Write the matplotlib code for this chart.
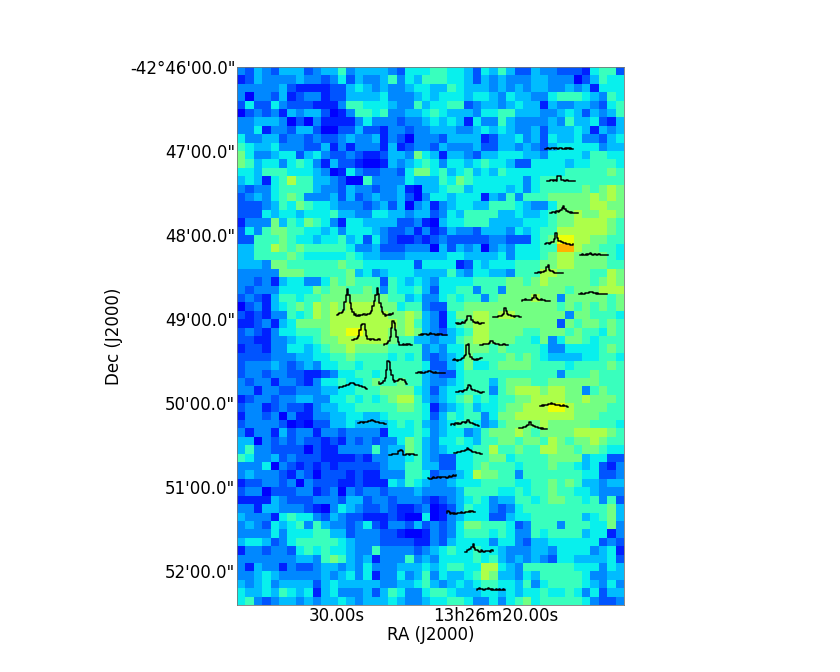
# Map of the field with small spectra drawn on top
import numpy as np
import matplotlib
matplotlib.use('Agg')
import matplotlib.pyplot as plt

# map cells, west half and east half, one digit/letter per cell (level code)
map_left = [
"32432444234463444432555","12433334332352433463546","33333421111224543433455","30332412331224444533345",
"25225322211136655543364","02323143442013665633445","33444302031111353332334","33513324420022422133233",
"53344233232234334132033","65445333224131333141233","75334552453223211244375","76455356531422100143456",
"55466655543015322332577","45415686644320063333544","32335666643324332334104","23435676333424234334203",
"22234657655433323424034","22254554555644335544344","13337465765315544442231","25367766554535554322313",
"22666765545564525321121","44668767666665334222333","44666676555556544333444","44437766666676655555525",
"33333777666667453455544","33231455335767666265454","32333555576776676365564","23214665667777777766453",
"02314567687878888775663","21213365687888888877874","11231457777888888887864","23213556667889988877874",
"22113345567788888876644","12213355456778777766663","22223334455667666656563","23334323435566566666665",
"23323322112355665666664","32331332135565567667664","33133223334455666777754","12332334433556565678864",
"23312322134455666667765","13323031133445544566665","23333201022445444456564","31331423313323333155565",
"44032323221213232335764","46332222021133336344764","65334232221111213344564","33350321212122222344664",
"34333213202221211333665","12233230322211211154654","23302223312303233233343","11114322233324423323332",
"33144333210354322321123","43331565532432211121005","34325456364332352133242","33335355566442333221001",
"45542356666654333222211","13323325656554336333323","33333334436764341333634","31433132234434353334445",
"33454333334345351335346","43453444424544444334456","54454654514533342465335","56323443434454344454334",
]
map_right = [
"66554254642243322215662","66554243433344333024655","44654443434344334341555","45554554354433566654365",
"55662344345441433443256","65444355664443345424346","54541533643333436445214","44433454543342444541434",
"32444412445342544533245","24333422443432455555344","41443244555443555546655","53554565542255554556665",
"56456454655555556666676","46576555555356666666666","45664555545356666676787","55455514363666777778787",
"13455446665433577778877","23546666445445677877887","04556664444555677888876","12433244435456688888876",
"23222223322256799887766","042434034355566aa877665","44554444535556788777765","55512545556667788777766",
"44643554436668877776687","35555666677678777776787","25566366377777776777888","35656636777787737777767",
"22667777777777767676767","31577887887777773776665","31567887777777727677676","32456887777667776766576",
"34467887776657357765666","43557776766665335555676","23457666676765444455665","22457556777766665666676",
"32256666666666636667666","33456664677766777777666","24556663678887887736766","34567565667788887787776",
"13456455677888998777766","24656635778888888777666","34566534677778777776665","34553467778767777888876",
"35565466776776876778766","34555668667668877677655","32255667756666777745522","42255676665666766545213",
"23345877663666666655223","33455566665566767644344","33346666556566766554333","12345653446656776656362",
"01246553235666666666674","01345552245566666645674","32357766652366636665573","32356665653365666645513",
"32455553553244555555232","45655655433344355553451","35555656434343255444452","45665588543666666555354",
"35445687443546666653344","43454566554635666654353","66544455454556556535244","55665335356756666653223",
]
# value of each level code on the colour scale
levels = {'0':0.11,'1':0.16,'2':0.21,'3':0.26,'4':0.31,'5':0.36,'6':0.42,'7':0.49,'8':0.56,'9':0.64,'a':0.72}

# spectra positions, in map cells
spec_x = [38.3,38.5,38.9,38.3,42.4,37.1,42.3,35.5,32.1,27.7,13.55,16.9,15.35,19.1,23.25,30.55,
          27.4,18.5,13.75,23.0,27.65,37.65,27.05,35.15,16.05,19.75,27.45,24.4,26.6,28.8,30.15]
spec_y = [9.75,13.55,17.35,21.05,22.35,24.5,27.0,27.8,29.7,30.45,29.5,29.5,32.45,33.05,31.85,33.05,
          34.85,37.5,38.15,36.4,38.65,40.3,42.55,42.9,42.35,46.15,45.9,48.85,53.05,57.65,62.2]
# spectra intensities, 22 channels each
spectra = [
[0,0,1,0,0,1,1,0,1,0,0,1,1,0,0,1,0,1,0,1,0,0],
[0,0,0,1,1,0,1,0,5,5,5,1,1,0,0,1,0,0,0,0,0,0],
[0,0,1,1,0,2,1,2,3,5,7,4,2,2,1,0,1,0,0,0,0,0],
[0,1,1,0,1,2,2,5,11,6,3,3,2,2,1,1,0,0,0,-1,-1,0],
[0,0,1,0,0,1,0,1,2,1,0,1,1,0,1,1,0,0,0,0,0,0],
[0,0,0,1,0,1,1,2,2,6,8,3,2,2,1,0,0,0,0,0,0,0],
[0,0,1,0,0,1,1,1,2,2,2,1,1,0,1,0,0,0,0,0,0,0],
[0,1,1,2,1,1,1,1,3,3,6,3,2,1,1,2,1,1,0,0,0,0],
[0,0,0,0,1,1,1,2,3,9,6,3,2,2,1,1,0,1,1,1,0,0],
[0,-1,0,-1,0,1,0,2,3,7,7,7,3,1,1,0,1,0,-1,0,0,0],
[0,1,2,2,3,5,13,20,26,20,12,6,3,0,1,-1,0,-1,0,0,1,1],
[0,0,1,1,2,4,9,14,20,27,21,12,8,3,1,-1,0,0,1,0,1,2],
[0,0,1,1,2,4,10,15,16,16,10,4,1,1,0,1,1,0,0,0,1,0],
[0,1,1,2,4,8,17,24,22,15,8,3,0,0,0,1,0,1,0,1,0,0],
[0,0,1,0,1,1,1,0,1,2,1,1,1,0,1,0,1,1,0,0,0,0],
[0,0,0,1,1,1,1,2,4,4,2,2,1,1,1,0,0,0,1,0,0,0],
[0,1,0,-1,0,0,1,2,4,5,15,16,6,3,1,1,0,1,0,1,2,2],
[0,-2,-1,-1,1,4,12,21,20,12,7,2,0,1,1,2,3,3,2,2,0,-2],
[0,1,1,1,2,2,3,3,4,5,5,5,4,3,3,3,2,2,1,1,0,-1],
[0,0,1,0,1,0,0,1,1,2,2,1,1,0,1,0,0,0,0,0,0,0],
[0,0,0,1,1,0,1,2,2,4,7,6,3,2,2,1,1,0,0,-1,0,0],
[0,0,1,0,1,1,1,2,2,3,2,2,1,1,1,1,0,0,1,0,0,-1],
[0,1,1,0,2,1,2,1,2,3,3,2,3,5,3,2,2,1,1,0,0,-1],
[0,0,0,0,1,1,2,3,6,6,3,2,2,1,1,0,0,-1,0,-1,-1,-1],
[0,0,1,1,0,1,1,1,2,2,3,3,2,1,1,1,0,0,0,0,-1,-1],
[0,0,0,1,1,1,1,4,4,5,4,0,0,1,1,0,1,1,1,0,0,0],
[0,0,0,1,1,1,2,2,2,3,5,4,3,2,1,1,1,0,0,0,-1,-1],
[0,-1,-1,0,1,0,0,1,1,0,1,1,1,1,0,1,2,1,2,3,2,3],
[0,2,1,-1,0,-1,0,-1,0,0,0,1,0,0,1,1,1,2,1,2,1,1],
[0,0,2,3,3,5,8,4,2,2,1,0,2,1,0,1,1,1,1,0,2,1],
[0,1,2,1,1,0,0,1,1,2,1,0,1,0,0,1,0,1,0,0,1,0],
]

dec_ticks = [0,10,20,30,40,50,60]
dec_labels = ['-42\u00b046\'00.0"','47\'00.0"','48\'00.0"','49\'00.0"','50\'00.0"','51\'00.0"','52\'00.0"']
ra_ticks = [11.9,30.8]
ra_labels = ['30.00s','13h26m20.00s']

grid = np.array([[levels[c] for c in l + r] for l, r in zip(map_left, map_right)])

fig = plt.figure(figsize=(7, 5.6), dpi=120)
ax = fig.add_axes([237/840, 1-605/672, 387/840, 538/672])
ax.imshow(grid, cmap='jet', vmin=0, vmax=1, extent=[0, 46, 64, 0], aspect='auto', interpolation='nearest')

# one spectrum per position, x runs over about 3.3 cells, 1 intensity unit is one screen pixel
channels = np.linspace(-1.67, 1.67, 22)
for sx, sy, sp in zip(spec_x, spec_y, spectra):
    ax.plot(sx + channels, sy - np.array(sp) / 8.41, color='black', lw=0.9, drawstyle='steps-mid')

ax.set_xlim(0, 46)
ax.set_ylim(64, 0)
ax.set_xticks(ra_ticks)
ax.set_xticklabels(ra_labels, fontsize=10)
ax.set_yticks(dec_ticks)
ax.set_yticklabels(dec_labels, fontsize=10)
ax.tick_params(length=0, pad=1)
ax.set_xlabel('RA (J2000)', fontsize=10, labelpad=1)
ax.set_ylabel('Dec (J2000)', fontsize=10)
for s in ax.spines.values():
    s.set_linewidth(0.5)
    s.set_color('#777777')

plt.savefig('out.png', dpi=120)
